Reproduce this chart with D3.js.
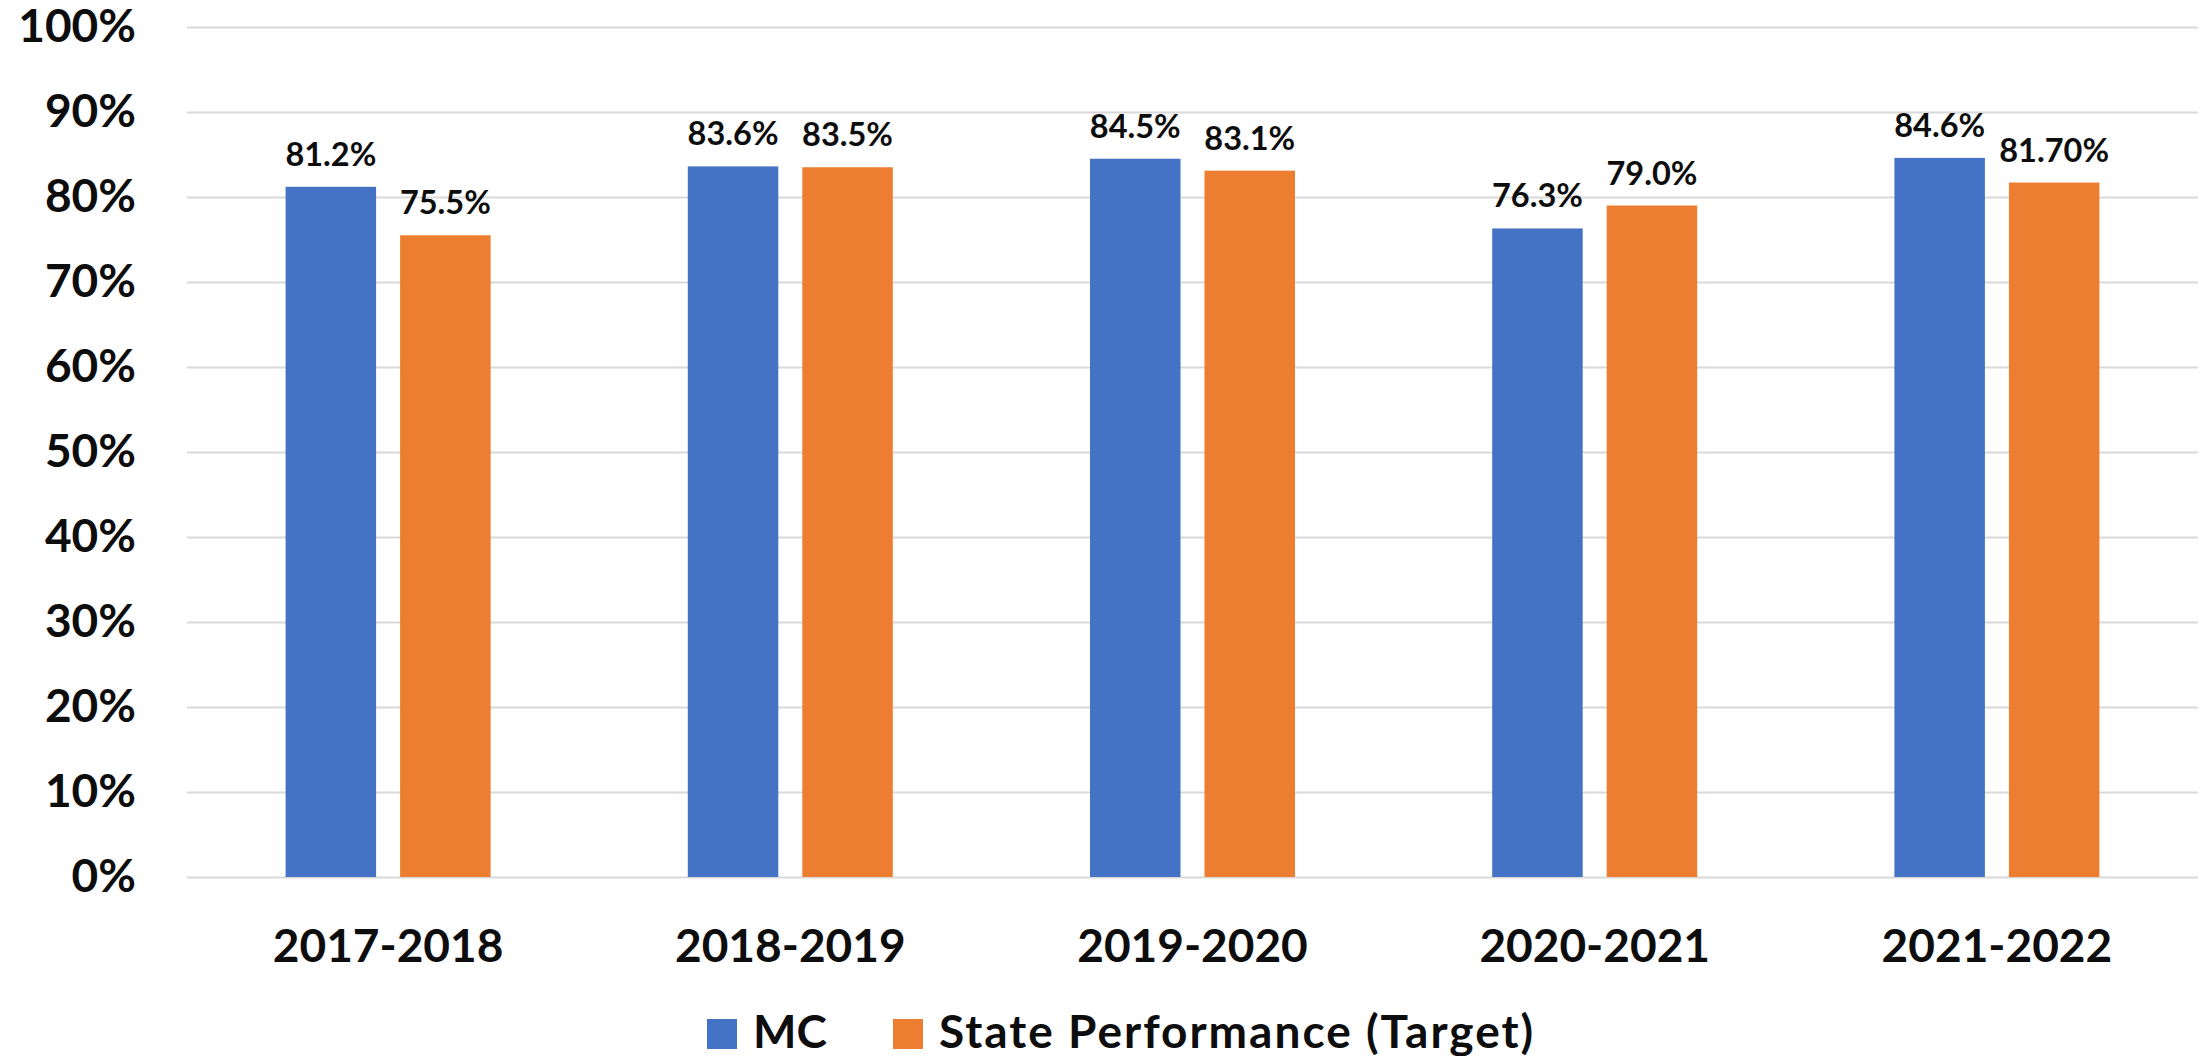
<!DOCTYPE html>
<html>
<head>
<meta charset="utf-8">
<script src="https://cdn.jsdelivr.net/npm/d3@7"></script>
<style>
  html, body { margin: 0; padding: 0; background: #fff; }
  svg { display: block; }
  text { font-family: Lato, "Open Sans", sans-serif; font-weight: 700; fill: #0d0d0d; }
</style>
</head>
<body>
<svg id="chart" width="2201" height="1056"></svg>
<script>
const categories = ["2017-2018", "2018-2019", "2019-2020", "2020-2021", "2021-2022"];
const seriesNames = ["MC", "State Performance (Target)"];
const mcValues = [81.2, 83.6, 84.5, 76.3, 84.6];
const stateValues = [75.5, 83.5, 83.1, 79.0, 81.7];
const mcLabels = ["81.2%", "83.6%", "84.5%", "76.3%", "84.6%"];
const stateLabels = ["75.5%", "83.5%", "83.1%", "79.0%", "81.70%"];
const yTicks = [0, 10, 20, 30, 40, 50, 60, 70, 80, 90, 100];
const colors = ["#4472C4", "#ED7D31"];

(function () {
const svg = d3.select("#chart");
const mLeft = 187, mRight = 2198, mTop = 27, mBottom = 877;

const x0 = d3.scaleBand().domain(categories).range([mLeft, mRight]).padding(0);
const x1 = d3.scaleBand().domain(seriesNames).range([0, 205]).paddingInner(0.2096).paddingOuter(0);
const y = d3.scaleLinear().domain([0, 100]).range([mBottom, mTop]);

// gridlines
const grid = svg.append("g").attr("transform", `translate(${mLeft},0)`)
  .call(d3.axisLeft(y).tickValues(yTicks).tickSize(-(mRight - mLeft)).tickFormat(""));
grid.select(".domain").remove();
grid.selectAll(".tick line").attr("stroke", "#d9d9d9").attr("stroke-width", 2);

// y axis labels
const yAxis = svg.append("g").attr("transform", `translate(${mLeft},0)`)
  .call(d3.axisLeft(y).tickValues(yTicks).tickSize(0).tickPadding(51).tickFormat(d => d + "%"));
yAxis.select(".domain").remove();
yAxis.selectAll(".tick text").attr("font-size", 46).attr("font-family", "Lato").attr("font-weight", 700).attr("fill", "#0d0d0d");

// x axis labels
const xAxis = svg.append("g").attr("transform", `translate(0,${mBottom})`)
  .call(d3.axisBottom(x0).tickSize(0).tickPadding(52));
xAxis.select(".domain").remove();
xAxis.selectAll(".tick text").attr("font-size", 46).attr("font-family", "Lato").attr("font-weight", 700).attr("fill", "#0d0d0d");

const data = categories.map((c, i) => ({
  cat: c,
  vals: [
    { s: seriesNames[0], v: mcValues[i], label: mcLabels[i], color: colors[0] },
    { s: seriesNames[1], v: stateValues[i], label: stateLabels[i], color: colors[1] }
  ]
}));

const groups = svg.append("g").selectAll("g").data(data).join("g")
  .attr("transform", d => `translate(${x0(d.cat) + x0.bandwidth() / 2 - 102.5},0)`);

groups.selectAll("rect").data(d => d.vals).join("rect")
  .attr("x", d => x1(d.s))
  .attr("width", x1.bandwidth())
  .attr("y", d => y(d.v))
  .attr("height", d => y(0) - y(d.v))
  .attr("fill", d => d.color);

groups.selectAll("text.lbl").data(d => d.vals).join("text")
  .attr("class", "lbl")
  .attr("x", d => x1(d.s) + x1.bandwidth() / 2)
  .attr("y", d => y(d.v) - 21)
  .attr("text-anchor", "middle")
  .attr("font-size", 32.5)
  .text(d => d.label);

// legend
const legend = svg.append("g");
const legendX = [707, 893];
seriesNames.forEach((s, i) => {
  legend.append("rect").attr("x", legendX[i]).attr("y", 1019).attr("width", 30).attr("height", 30).attr("fill", colors[i]);
  legend.append("text").attr("x", legendX[i] + 46).attr("y", 1048).attr("font-size", 46)
    .attr("letter-spacing", i === 1 ? 2 : 0).text(s);
});
})();
</script>
</body>
</html>
